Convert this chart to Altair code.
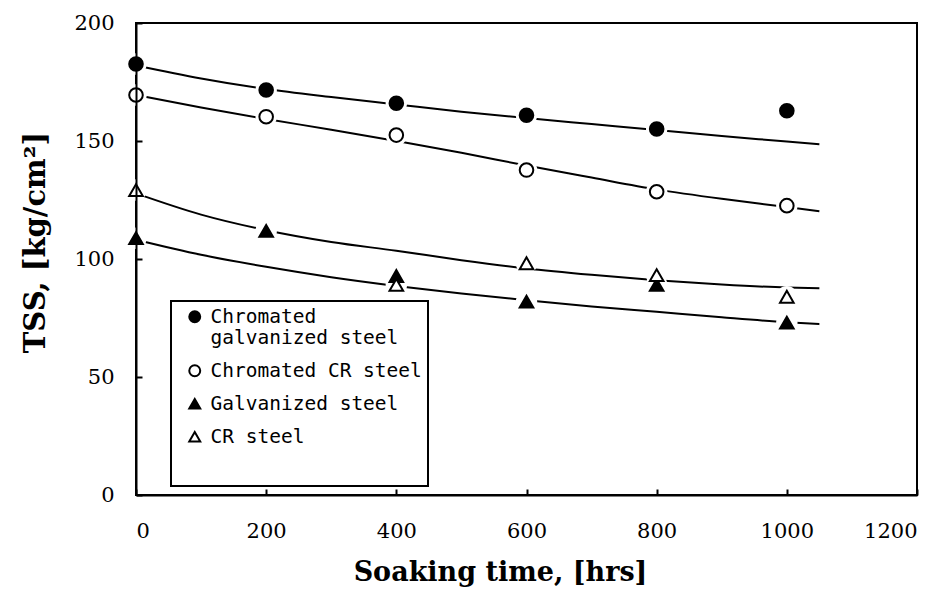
import altair as alt
import pandas as pd

# ---------------- data ----------------
series_names = ["Chromated galvanized steel", "Chromated CR steel",
                "Galvanized steel", "CR steel"]

times = [0, 200, 400, 600, 800, 1000]
cgs_tss = [182.6, 171.6, 166.0, 160.9, 155.1, 162.8]   # Chromated galvanized steel
ccr_tss = [169.5, 160.3, 152.5, 137.7, 128.5, 122.6]   # Chromated CR steel
gs_tss = [108.8, 111.9, 92.8, 81.9, 89.0, 73.0]        # Galvanized steel
cr_times = [0, 400, 600, 800, 1000]
cr_tss = [129.2, 89.0, 98.2, 93.2, 84.0]               # CR steel

# fitted trend curves
fit_times = [0, 100, 200, 300, 400, 500, 600, 700, 800, 900, 1000, 1050]
cgs_fit = [182.0, 176.5, 172.0, 168.6, 165.5, 162.4, 159.7, 157.2, 154.7, 152.1, 149.8, 148.6]
ccr_fit = [169.5, 164.2, 159.3, 154.8, 150.0, 145.0, 139.6, 134.5, 129.5, 125.5, 122.0, 120.2]
cr_fit = [127.8, 118.8, 112.2, 107.2, 103.5, 99.5, 96.0, 93.3, 91.0, 89.2, 87.9, 87.6]
gs_fit = [108.2, 101.8, 96.7, 92.3, 88.6, 85.4, 82.5, 79.9, 77.6, 75.3, 73.2, 72.4]

x_ticks = [0, 200, 400, 600, 800, 1000, 1200]
y_ticks = [0, 50, 100, 150, 200]

# legend entries (the last, blank one only pads the legend box at the bottom)
legend_domain = series_names + [" "]
shape_range = ["circle", "circle", "triangle-up", "triangle-up", "circle"]
fill_range = ["black", "white", "black", "white", "transparent"]
stroke_range = ["black", "black", "black", "black", "transparent"]

# ---------------- tables ----------------
rows = []
for t, v in zip(times, cgs_tss):
    rows.append({"series": series_names[0], "time": t, "tss": v})
for t, v in zip(times, ccr_tss):
    rows.append({"series": series_names[1], "time": t, "tss": v})
for t, v in zip(times, gs_tss):
    rows.append({"series": series_names[2], "time": t, "tss": v})
for t, v in zip(cr_times, cr_tss):
    rows.append({"series": series_names[3], "time": t, "tss": v})
pts = pd.DataFrame(rows)

frows = []
for name, vals in zip(series_names, [cgs_fit, ccr_fit, gs_fit, cr_fit]):
    for t, v in zip(fit_times, vals):
        frows.append({"series": name, "time": t, "tss": v})
fit = pd.DataFrame(frows)

x_scale = alt.Scale(domain=[0, 1200], nice=False, zero=False)
y_scale = alt.Scale(domain=[0, 200], nice=False)

PLOT_W, PLOT_H = 781, 472

main_x_axis = alt.Axis(values=x_ticks, format="d", title="Soaking time, [hrs]",
                       ticks=False, tickSize=0,
                       labelPadding=25, labelFontSize=21, titleFontSize=27,
                       titleX=364, titleY=85, titleBaseline="alphabetic", zindex=1)
main_y_axis = alt.Axis(values=y_ticks, format="d", title="TSS, [kg/cm²]",
                       ticks=False, tickSize=0,
                       labelPadding=22, labelFontSize=21, titleFontSize=29,
                       titleX=-92, titleY=219, titleBaseline="alphabetic", zindex=1)

tick_x_axis = alt.Axis(values=x_ticks, orient="top", offset=-PLOT_H, labels=False,
                       domain=False, ticks=True, tickSize=6, tickWidth=2, title=None,
                       zindex=1)
tick_y_axis = alt.Axis(values=y_ticks, orient="right", offset=-PLOT_W, labels=False,
                       domain=False, ticks=True, tickSize=6, tickWidth=2, title=None,
                       zindex=1)

lines = alt.Chart(fit).mark_line(color="black", strokeWidth=2, interpolate="monotone").encode(
    x=alt.X("time:Q", scale=x_scale, axis=main_x_axis),
    y=alt.Y("tss:Q", scale=y_scale, axis=main_y_axis),
    detail="series:N",
)

halo = alt.Chart(pts).mark_point(shape="circle", filled=True, color="white",
                                 size=460, opacity=1).encode(
    x=alt.X("time:Q", scale=x_scale, axis=tick_x_axis),
    y=alt.Y("tss:Q", scale=y_scale, axis=tick_y_axis),
)

legend = alt.Legend(
    title=None, orient="none", legendX=35, legendY=278, direction="vertical",
    strokeColor="black", fillColor="white", padding=6,
    labelFont="DejaVu Sans Mono", labelFontSize=19.5, labelColor="black",
    labelLimit=400, rowPadding=12, symbolSize=120, symbolStrokeWidth=2,
    symbolOffset=8, labelOffset=6,
    labelExpr="datum.label == 'Chromated galvanized steel' ? ['Chromated', 'galvanized steel'] : datum.label",
)

markers = alt.Chart(pts).mark_point(strokeWidth=2, size=185, opacity=1).encode(
    x=alt.X("time:Q", scale=x_scale, axis=None),
    y=alt.Y("tss:Q", scale=y_scale, axis=None),
    shape=alt.Shape("series:N", scale=alt.Scale(domain=legend_domain, range=shape_range),
                    legend=legend),
    fill=alt.Fill("series:N", scale=alt.Scale(domain=legend_domain, range=fill_range),
                  legend=legend),
    stroke=alt.Stroke("series:N", scale=alt.Scale(domain=legend_domain, range=stroke_range),
                      legend=legend),
)

chart = alt.layer(lines, halo, markers).resolve_axis(
    x="independent", y="independent"
).properties(
    width=PLOT_W, height=PLOT_H,
    autosize=alt.AutoSizeParams(type="none"),
    padding={"left": 128, "top": 15, "right": 20, "bottom": 100},
).configure_view(
    stroke="black", strokeWidth=2
).configure_axis(
    labelFont="DejaVu Serif", titleFont="DejaVu Serif", titleFontWeight="bold",
    labelColor="black", titleColor="black", domainColor="black", domainWidth=2,
    tickColor="black", grid=False,
).configure_legend(
    strokeWidth=2
)

chart.save("out.html", embed_options={"renderer": "svg", "actions": False})
